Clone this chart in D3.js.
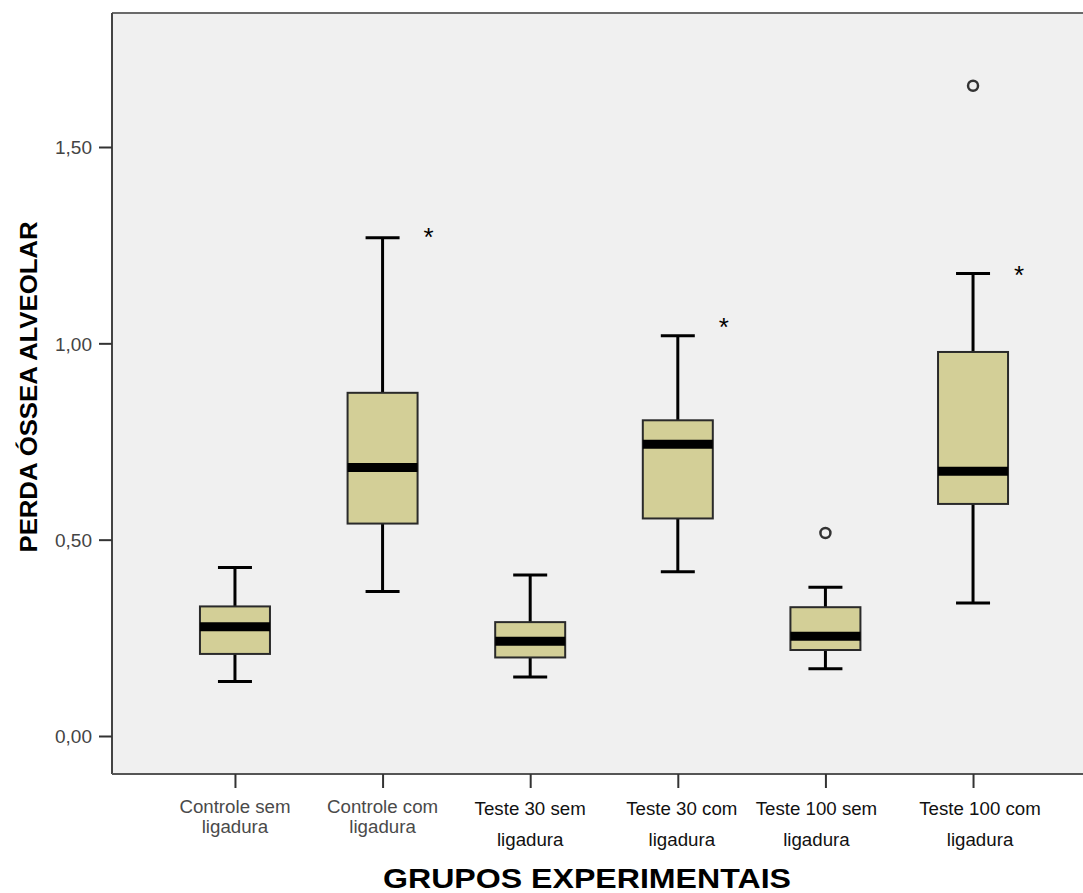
<!DOCTYPE html>
<html>
<head>
<meta charset="utf-8">
<script src="https://cdn.jsdelivr.net/npm/d3@7"></script>
<style>
  html, body { margin: 0; padding: 0; background: #ffffff; }
  svg { display: block; }
</style>
</head>
<body>
<svg id="chart" width="1083" height="893"></svg>
<script>
// ---- data ----
const categories = ["Controle sem ligadura", "Controle com ligadura", "Teste 30 sem ligadura",
                    "Teste 30 com ligadura", "Teste 100 sem ligadura", "Teste 100 com ligadura"];
const labelLine1 = ["Controle sem", "Controle com", "Teste 30 sem", "Teste 30 com", "Teste 100 sem", "Teste 100 com"];
const labelLine2 = ["ligadura", "ligadura", "ligadura", "ligadura", "ligadura", "ligadura"];
const whiskerLow  = [0.139, 0.368, 0.150, 0.418, 0.171, 0.339];
const q1          = [0.209, 0.541, 0.200, 0.554, 0.219, 0.591];
const median      = [0.278, 0.684, 0.241, 0.743, 0.254, 0.674];
const q3          = [0.330, 0.874, 0.290, 0.804, 0.328, 0.978];
const whiskerHigh = [0.429, 1.269, 0.410, 1.019, 0.379, 1.178];
const outlierGroups = ["Teste 100 sem ligadura", "Teste 100 com ligadura"];
const outlierValues = [0.517, 1.656];
const starGroups = ["Controle com ligadura", "Teste 30 com ligadura", "Teste 100 com ligadura"];
const starValues = [1.286, 1.056, 1.189];
const yTicks = [0.0, 0.5, 1.0, 1.5];
const yTickLabels = ["0,00", "0,50", "1,00", "1,50"];
const xTitle = "GRUPOS EXPERIMENTAIS";
const yTitle = "PERDA ÓSSEA ALVEOLAR";

// ---- layout ----
const plotLeft = 112, plotTop = 13, plotBottom = 774, plotRight = 1096;
const svg = d3.select("#chart");

const x = d3.scalePoint().domain(categories).range([plotLeft, plotRight]).padding(0.833);
const y = d3.scaleLinear().domain([0, 1.5]).range([736, 147]);

// background
svg.append("rect")
  .attr("x", plotLeft).attr("y", plotTop)
  .attr("width", plotRight - plotLeft).attr("height", plotBottom - plotTop)
  .attr("fill", "#f0f0f0");

// frame lines
svg.append("line").attr("x1", plotLeft).attr("x2", plotRight).attr("y1", plotTop).attr("y2", plotTop)
  .attr("stroke", "#6a6a6a").attr("stroke-width", 2);
svg.append("line").attr("x1", plotLeft).attr("x2", plotLeft).attr("y1", plotTop).attr("y2", plotBottom)
  .attr("stroke", "#444").attr("stroke-width", 2);
svg.append("line").attr("x1", plotLeft).attr("x2", plotRight).attr("y1", plotBottom).attr("y2", plotBottom)
  .attr("stroke", "#555").attr("stroke-width", 2);

// y axis ticks and labels
const yAxis = d3.axisLeft(y).tickValues(yTicks).tickSize(13).tickPadding(7)
  .tickFormat((d, i) => yTickLabels[i]);
const gy = svg.append("g").attr("transform", `translate(${plotLeft},0)`).call(yAxis);
gy.select(".domain").remove();
gy.selectAll(".tick line").attr("stroke", "#333").attr("stroke-width", 2);
gy.selectAll(".tick text")
  .attr("font-family", "Liberation Sans, Arial, sans-serif")
  .attr("font-size", 19).attr("fill", "#444").attr("dy", "0.36em");

// x axis ticks
const xAxis = d3.axisBottom(x).tickSize(14).tickFormat("");
const gx = svg.append("g").attr("transform", `translate(0,${plotBottom})`).call(xAxis);
gx.select(".domain").remove();
gx.selectAll(".tick line").attr("stroke", "#333").attr("stroke-width", 2);

// x labels
const labelFont = "Liberation Sans, Arial, sans-serif";
const labelDx = [0, 0, 0, 4, -9, 7];
categories.forEach((c, i) => {
  const isControl = i < 2;
  const g = svg.append("text")
    .attr("text-anchor", "middle")
    .attr("font-family", labelFont)
    .attr("font-size", 18.7)
    .attr("fill", isControl ? "#4a4a4a" : "#111");
  g.append("tspan").attr("x", x(c) + labelDx[i]).attr("y", isControl ? 813 : 815).text(labelLine1[i]);
  g.append("tspan").attr("x", x(c) + labelDx[i]).attr("y", isControl ? 833 : 846).text(labelLine2[i]);
});

// titles
svg.append("text")
  .attr("x", 587).attr("y", 888)
  .attr("text-anchor", "middle")
  .attr("font-family", labelFont).attr("font-weight", "bold")
  .attr("font-size", 28).attr("fill", "#000")
  .attr("textLength", 408).attr("lengthAdjust", "spacingAndGlyphs")
  .text(xTitle);

svg.append("text")
  .attr("transform", "translate(37,387) rotate(-90)")
  .attr("text-anchor", "middle")
  .attr("font-family", labelFont).attr("font-weight", "bold")
  .attr("font-size", 24).attr("fill", "#000")
  .attr("textLength", 331).attr("lengthAdjust", "spacingAndGlyphs")
  .text(yTitle);

// boxes
const boxW = 70, capW = 34;
const boxes = categories.map((c, i) => ({
  c, lo: whiskerLow[i], q1: q1[i], med: median[i], q3: q3[i], hi: whiskerHigh[i]
}));
const gb = svg.append("g");
boxes.forEach(d => {
  const cx = x(d.c);
  // whiskers
  gb.append("line").attr("x1", cx).attr("x2", cx).attr("y1", y(d.lo)).attr("y2", y(d.q1))
    .attr("stroke", "#000").attr("stroke-width", 3);
  gb.append("line").attr("x1", cx).attr("x2", cx).attr("y1", y(d.q3)).attr("y2", y(d.hi))
    .attr("stroke", "#000").attr("stroke-width", 3);
  gb.append("line").attr("x1", cx - capW / 2).attr("x2", cx + capW / 2).attr("y1", y(d.lo)).attr("y2", y(d.lo))
    .attr("stroke", "#000").attr("stroke-width", 3);
  gb.append("line").attr("x1", cx - capW / 2).attr("x2", cx + capW / 2).attr("y1", y(d.hi)).attr("y2", y(d.hi))
    .attr("stroke", "#000").attr("stroke-width", 3);
  // box
  gb.append("rect")
    .attr("x", cx - boxW / 2).attr("y", y(d.q3))
    .attr("width", boxW).attr("height", y(d.q1) - y(d.q3))
    .attr("fill", "#d3cf97").attr("stroke", "#2a2a2a").attr("stroke-width", 2);
  // median
  gb.append("line").attr("x1", cx - boxW / 2).attr("x2", cx + boxW / 2).attr("y1", y(d.med)).attr("y2", y(d.med))
    .attr("stroke", "#000").attr("stroke-width", 9);
});

// outliers
outlierGroups.forEach((c, i) => {
  svg.append("circle")
    .attr("cx", x(c)).attr("cy", y(outlierValues[i])).attr("r", 5)
    .attr("fill", "none").attr("stroke", "#333").attr("stroke-width", 2.5);
});

// significance asterisks
starGroups.forEach((c, i) => {
  svg.append("text")
    .attr("x", x(c) + 46).attr("y", y(starValues[i]) + 15)
    .attr("text-anchor", "middle")
    .attr("font-family", labelFont).attr("font-size", 26).attr("fill", "#000")
    .text("*");
});
</script>
</body>
</html>
